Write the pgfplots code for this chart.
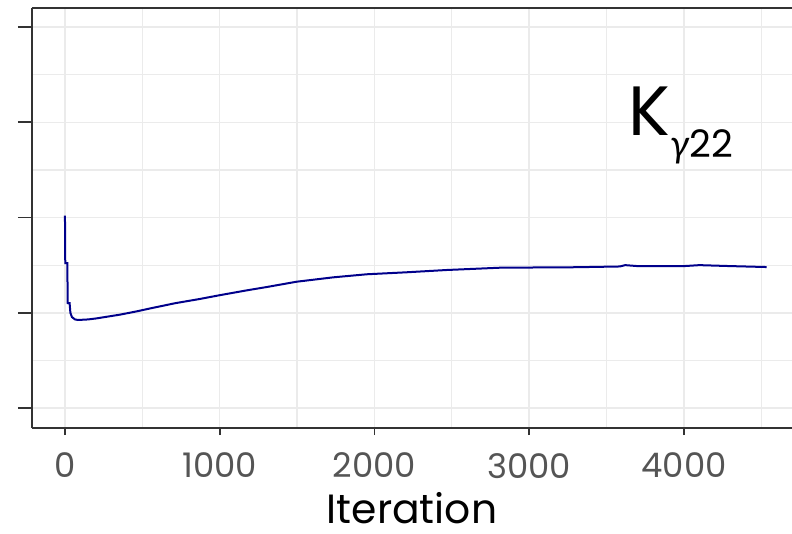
\documentclass[border=0pt]{standalone}
\usepackage{pgfplots}
\pgfplotsset{compat=1.18}
\usepackage{fontspec}
\setmainfont{Poppins}
\newfontfamily\grk{Lato}
\definecolor{gridc}{HTML}{EBEBEB}
\definecolor{axc}{HTML}{333333}
\definecolor{tickc}{HTML}{555555}
\definecolor{navyc}{HTML}{00008B}
\begin{document}
\begin{tikzpicture}
\begin{axis}[
  name=ax,
  scale only axis,
  width=380bp, height=210bp,
  xmin=-213, xmax=4698,
  ymin=-0.21, ymax=4.2,
  axis x line*=box, axis y line*=left,
  xtick pos=lower, ytick pos=left,
  tick align=outside,
  xtick={0,1000,2000,3000,4000},
  minor xtick={500,1500,2500,3500,4500},
  ytick={0,1,2,3,4},
  minor ytick={0.5,1.5,2.5,3.5},
  yticklabels={},
  major tick length=7bp,
  xtick style={/pgfplots/major tick length=3.5bp},
  minor tick length=0pt,
  grid=both,
  major grid style={gridc, line width=0.75bp},
  minor grid style={gridc, line width=0.6bp},
  axis line style={axc, line width=0.9bp},
  every tick/.style={axc, line width=0.9bp},
  /pgf/number format/assume math mode=true,
  /pgf/number format/1000 sep={},
  xticklabel style={font=\fontsize{17}{17}\selectfont, text=tickc, yshift=-2bp},
  xlabel={Iteration},
  xlabel style={font=\fontsize{20.5}{20.5}\selectfont, text=black, inner sep=0pt, yshift=-3.5bp},
  clip=false,
]
\addplot[navyc, line width=1bp] coordinates {
(0,2.02) (2,1.52) (15,1.52) (18,1.10) (30,1.10) (35,1.00) (45,0.955)
(65,0.93) (84,0.924) (150,0.93) (200,0.94) (258,0.955) (355,0.98)
(465,1.015) (549,1.045) (711,1.10) (872,1.145) (1002,1.185) (1174,1.235)
(1303,1.27) (1497,1.326) (1734,1.372) (1950,1.404) (2208,1.425)
(2467,1.449) (2811,1.473) (3000,1.475) (3300,1.478) (3586,1.486)
(3620,1.50) (3700,1.49) (4000,1.49) (4100,1.50) (4300,1.49) (4534,1.48)
};
\node[anchor=base west, inner sep=0pt] at (axis cs:3638,2.866)
  {\fontsize{35}{35}\selectfont K\raisebox{-11bp}{\fontsize{19}{19}\selectfont{\grk\itshape γ}22}};
\end{axis}
\pgfresetboundingbox
\path[use as bounding box] ([shift={(-16bp,-53bp)}]ax.south west) rectangle ([shift={(0bp,4bp)}]ax.north east);
\end{tikzpicture}
\end{document}
